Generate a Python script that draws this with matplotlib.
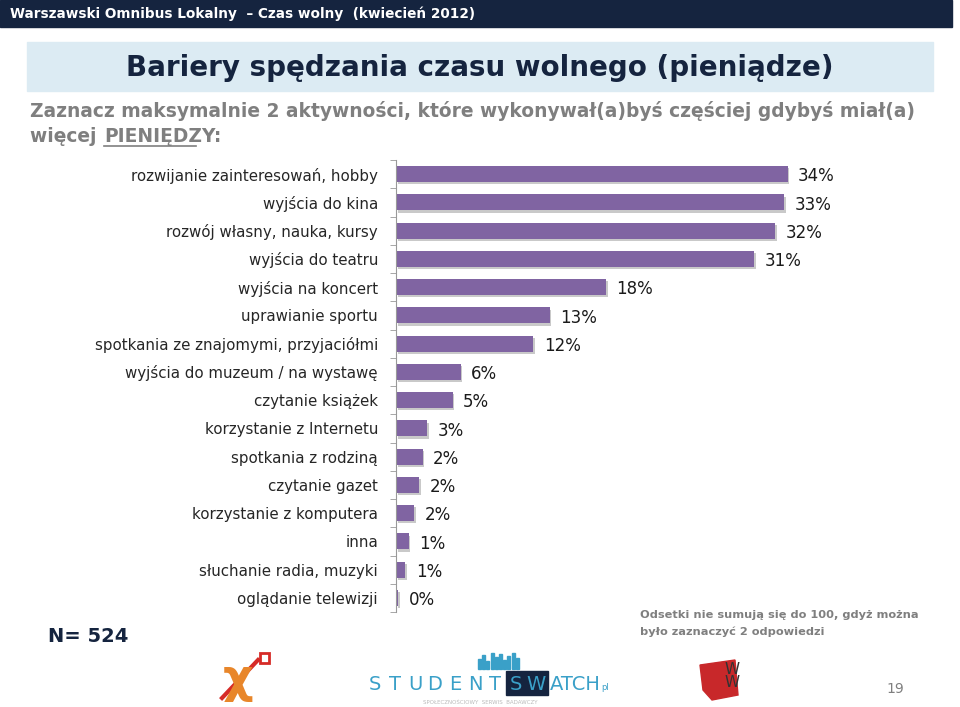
import matplotlib
matplotlib.use('Agg')
import matplotlib.pyplot as plt
from matplotlib.patches import Rectangle, Polygon
import numpy as np

# data
categories = ['rozwijanie zainteresowań, hobby', 'wyjścia do kina',
              'rozwój własny, nauka, kursy', 'wyjścia do teatru',
              'wyjścia na koncert', 'uprawianie sportu',
              'spotkania ze znajomymi, przyjaciółmi',
              'wyjścia do muzeum / na wystawę', 'czytanie książek',
              'korzystanie z Internetu', 'spotkania z rodziną',
              'czytanie gazet', 'korzystanie z komputera', 'inna',
              'słuchanie radia, muzyki', 'oglądanie telewizji']
values = [33.9, 33.6, 32.8, 31.0, 18.2, 13.3, 11.9, 5.6, 4.9, 2.7, 2.3, 2.0, 1.6, 1.1, 0.8, 0.2]
labels = ['34%', '33%', '32%', '31%', '18%', '13%', '12%', '6%', '5%', '3%',
          '2%', '2%', '2%', '1%', '1%', '0%']

W, H = 960, 707
navy = '#15243f'
purple = '#8064a2'
grey = '#7f7f7f'
teal = '#3aa0c8'
plt.rcParams['font.family'] = ['DejaVu Sans']

fig = plt.figure(figsize=(9.6, 7.07), dpi=100)

# slide decorations in pixel coordinates
bg = fig.add_axes([0, 0, 1, 1])
bg.set_xlim(0, W)
bg.set_ylim(H, 0)
bg.axis('off')
bg.add_patch(Rectangle((0, 0), 952, 27, color=navy))
bg.text(10, 14, 'Warszawski Omnibus Lokalny  – Czas wolny  (kwiecień 2012)',
        color='white', fontsize=9.8, fontweight='bold', va='center')
bg.add_patch(Rectangle((27, 42), 906, 49, color='#dcebf3'))
bg.text(480, 68, 'Bariery spędzania czasu wolnego (pieniądze)', color=navy,
        fontsize=20, fontweight='bold', ha='center', va='center')
bg.text(30, 111, 'Zaznacz maksymalnie 2 aktywności, które wykonywał(a)byś częściej gdybyś miał(a)',
        color=grey, fontsize=13.4, fontweight='bold', va='center')
bg.text(30, 136, 'więcej ', color=grey, fontsize=13.4, fontweight='bold', va='center')
bg.text(104, 136, 'PIENIĘDZY:', color=grey, fontsize=13.4, fontweight='bold', va='center')
bg.plot([104, 196], [146, 146], color=grey, lw=1.2)
bg.text(48, 636, 'N= 524', color=navy, fontsize=14, fontweight='bold', va='center')
bg.text(640, 615, 'Odsetki nie sumują się do 100, gdyż można', color=grey,
        fontsize=8.2, fontweight='bold', va='center')
bg.text(640, 632, 'było zaznaczyć 2 odpowiedzi', color=grey,
        fontsize=8.2, fontweight='bold', va='center')
bg.text(895, 689, '19', color=grey, fontsize=10, ha='center', va='center')

# rough logos
bg.text(238, 680, 'χ', color='#e8862a', fontsize=34, ha='center', va='center', fontweight='bold')
bg.plot([222, 258], [698, 660], color='#d62b27', lw=3)
bg.add_patch(Rectangle((260, 653), 9, 10, fill=False, ec='#d62b27', lw=2))
bg.add_patch(Rectangle((506, 671), 42, 24, color=navy))
for i, ch in enumerate('STUDENT'):
    bg.text(375 + i * 20, 684, ch, color=teal, fontsize=14, ha='center', va='center')
bg.text(516, 684, 'S', color=teal, fontsize=14, ha='center', va='center')
bg.text(536, 684, 'W', color=teal, fontsize=14, ha='center', va='center')
bg.text(550, 684, 'ATCH', color=teal, fontsize=14, va='center')
bg.text(601, 688, 'pl', color=teal, fontsize=6, va='center')
for i, h in enumerate([10, 14, 8, 16, 12, 15, 9, 13, 16, 11]):
    bg.add_patch(Rectangle((478 + i * 4.2, 669 - h), 3, h, color=teal))
bg.text(480, 703, 'SPOŁECZNOŚCIOWY  SERWIS  BADAWCZY', color='#bbbbbb', fontsize=4,
        ha='center', va='center')
bg.add_patch(Polygon([[700, 665], [735, 660], [738, 695], [712, 700], [703, 690]],
                     color='#c8282a'))
bg.text(732, 676, 'W\nW', color='#333333', fontsize=11, ha='center', va='center',
        linespacing=0.8)

# bar chart
ax = fig.add_axes([396 / W, 1 - 612 / H, 462 / W, 452 / H])
ax.patch.set_alpha(0)
y = np.arange(len(categories))
ax.barh(y + 0.08, values, height=0.56, left=0.15, color='#c9c9c9', zorder=1)
ax.barh(y, values, height=0.56, color=purple, zorder=2)
for yi, v, lab in zip(y, values, labels):
    ax.text(v + 0.9, yi + 0.08, lab, fontsize=12, color='#1a1a1a', va='center')
ax.set_ylim(len(categories) - 0.5, -0.5)
ax.set_xlim(0, 40)
ax.set_yticks(y)
ax.set_yticklabels(categories, fontsize=10.8, color='#262626')
ax.set_yticks(np.arange(-0.5, len(categories), 1), minor=True)
ax.tick_params(axis='y', which='major', length=0, pad=13)
ax.tick_params(axis='y', which='minor', length=4, color='#999999')
ax.set_xticks([])
for s in ['top', 'right', 'bottom']:
    ax.spines[s].set_visible(False)
ax.spines['left'].set_color('#999999')

fig.savefig('out.png', dpi=100)
